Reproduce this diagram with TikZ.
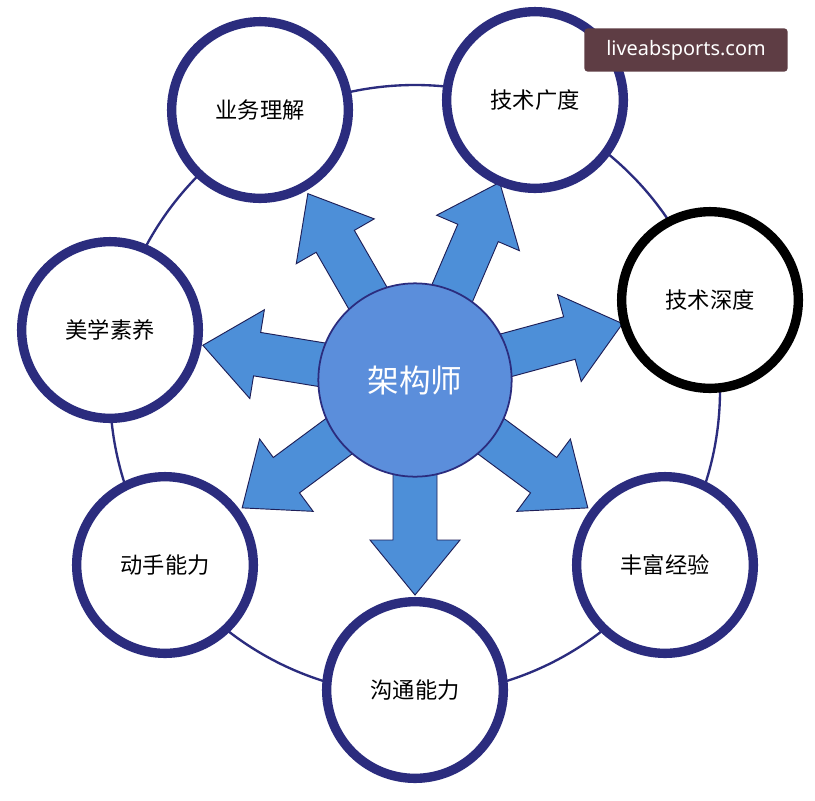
\documentclass[tikz,border=0pt]{standalone}
\usepackage{fontspec}
\newfontfamily\cjk{Noto Sans CJK SC}
\setsansfont{Noto Sans}
\definecolor{navy}{HTML}{2B2C7E}
\definecolor{arrowblue}{HTML}{4D8FD8}
\definecolor{hubblue}{HTML}{5B8EDB}
\definecolor{markbox}{HTML}{5E3D44}
\tikzset{
  skill/.style={circle, draw=navy, line width=8pt, fill=white, minimum size=5.3cm, font=\cjk\fontsize{19}{19}\selectfont},
  hub/.style={circle, draw=navy, line width=1.5pt, fill=hubblue, minimum size=5.8cm, text=white, font=\cjk\fontsize{27}{27}\selectfont},
  fatarrow/.style={fill=arrowblue, draw=navy!70!black, line width=0.8pt}
}
\begin{document}
\begin{tikzpicture}[x=0.03cm, y=-0.03cm]
	\useasboundingbox[fill=white] (0,0) rectangle (815,800);
	% Ring through the skills
	\draw[navy, line width=2pt] (415,390) circle [radius=305];
	
	% Arrows out of the hub
	\foreach \ang in {119.9, 66.8, 15.2, -36.5, -90, -143.5, 170.7} {
		\begin{scope}[shift={(415,380)}, rotate=\ang]
			\draw[fatarrow] (85,-22) -- (160,-22) -- (160,-45) -- (215,0) -- (160,45) -- (160,22) -- (85,22) -- cycle;
		\end{scope}
	}
	
	% Hub
	\node[hub] (arch) at (415,380) {架构师};
	
	% Skills
	\node[skill] (biz) at (260,110) {业务理解};
	\node[skill] (breadth) at (535,100) {技术广度};
	\node[skill, draw=black] (depth) at (710,300) {技术深度};
	\node[skill] (exp) at (665,565) {丰富经验};
	\node[skill] (comm) at (415,690) {沟通能力};
	\node[skill] (hands) at (165,565) {动手能力};
	\node[skill] (aesth) at (110,330) {美学素养};
	
	% Watermark
	\node[fill=markbox, rounded corners=3pt, text=white, minimum width=6.1cm, minimum height=1.3cm, font=\sffamily\fontsize{17}{17}\selectfont] (mark) at (686,50) {liveabsports.com};
\end{tikzpicture}
\end{document}
